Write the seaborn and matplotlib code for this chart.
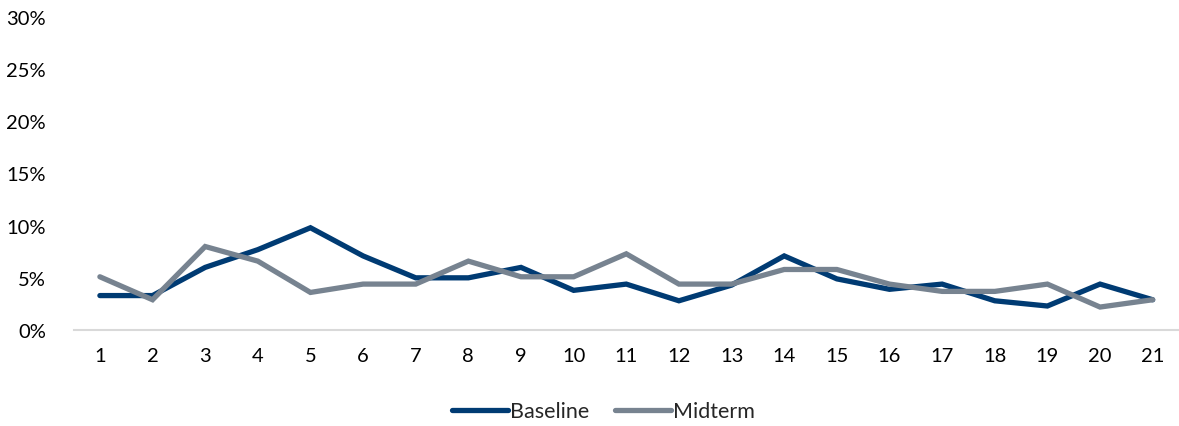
import matplotlib
matplotlib.use("Agg")
import matplotlib.pyplot as plt
import seaborn as sns
import pandas as pd
from matplotlib.ticker import PercentFormatter
from matplotlib.lines import Line2D

categories = list(range(1, 22))
baseline = [3.3, 3.3, 6.0, 7.7, 9.8, 7.1, 5.0, 5.0, 6.0, 3.8, 4.4, 2.8, 4.3, 7.1, 4.9, 3.9, 4.4, 2.8, 2.3, 4.4, 2.9]
midterm = [5.1, 2.9, 8.0, 6.6, 3.6, 4.4, 4.4, 6.6, 5.1, 5.1, 7.3, 4.4, 4.4, 5.8, 5.8, 4.4, 3.7, 3.7, 4.4, 2.2, 2.9]
series_names = ["Baseline", "Midterm"]
colors = ["#003B73", "#778390"]

df = pd.DataFrame({
    "x": [str(c) for c in categories] * 2,
    "value": [v / 100 for v in baseline + midterm],
    "series": [series_names[0]] * len(categories) + [series_names[1]] * len(categories),
})

sns.set_theme(style="white")
plt.rcParams['font.family'] = ['Lato', 'DejaVu Sans']

fig = plt.figure(figsize=(11.79, 4.27), dpi=100)
ax = fig.add_axes([0.0624, 0.2248, 0.9376, 0.7332])
sns.lineplot(data=df, x="x", y="value", hue="series", palette=colors, ax=ax,
             linewidth=3.8, sort=False, legend=False)
for ln in ax.lines:
    ln.set_solid_capstyle("round")
    ln.set_solid_joinstyle("miter")

ax.set_ylim(0, 0.30)
ax.set_xlim(-0.5, len(categories) - 0.5)
ax.yaxis.set_major_formatter(PercentFormatter(1.0, decimals=0))
ax.set_yticks([0, 0.05, 0.10, 0.15, 0.20, 0.25, 0.30])
ax.set_xlabel("")
ax.set_ylabel("")
for s in ["top", "right", "left"]:
    ax.spines[s].set_visible(False)
ax.spines["bottom"].set_color("#D9D9D9")
ax.spines["bottom"].set_linewidth(1.5)
ax.tick_params(axis="both", length=0, labelsize=14.5, colors="#000000")
ax.tick_params(axis="x", pad=12)
ax.tick_params(axis="y", pad=20)

handles = [Line2D([0], [0], color=c, lw=3.8, solid_capstyle="round") for c in colors]
fig.legend(handles, series_names, loc="center", bbox_to_anchor=(0.512, 0.035),
           ncol=2, frameon=False, fontsize=15.5, handlelength=2.6,
           handletextpad=0.1, columnspacing=1.2)

fig.savefig("out.png", dpi=100, facecolor="white")
